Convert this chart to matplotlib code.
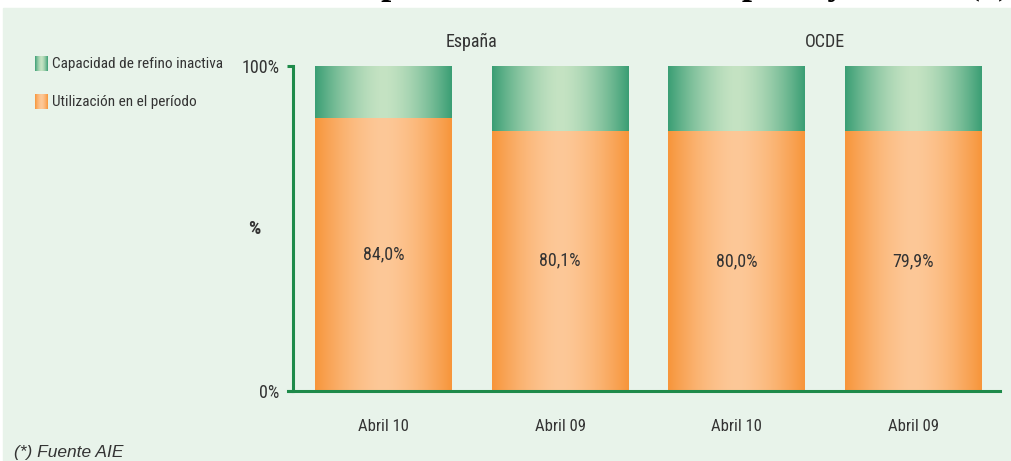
"""Refinery capacity utilisation, Spain vs OECD: stacked 100% bars with gradient fill."""

import matplotlib
matplotlib.use("Agg")
import matplotlib.pyplot as plt
import numpy as np
from matplotlib import font_manager
from matplotlib.colors import to_rgb
from matplotlib.patches import Rectangle

# data
categories = ["Abril 10", "Abril 09", "Abril 10", "Abril 09"]
groups = ["España", "OCDE"]
utilizacion = [84.0, 80.1, 80.0, 79.9]
inactiva = [100 - v for v in utilizacion]
series_labels = ["Capacidad de refino inactiva", "Utilización en el período"]
title = "Utilización de la capacidad de refino en España y OCDE (*)"
source = "(*) Fuente AIE"

# narrowest family we can find
installed = {f.name for f in font_manager.fontManager.ttflist}
NARROW = next((n for n in ["Liberation Sans Narrow", "DejaVu Sans Condensed",
                            "Roboto Condensed", "Open Sans Condensed"] if n in installed),
              "DejaVu Sans")
SHRINK = 1.0 if NARROW != "DejaVu Sans" else 0.82

TEXT = "#333333"
AXIS_GREEN = "#1E8A4A"
PANEL = "#E8F3EA"
ORANGE = ("#F7953A", "#FDC898")   # edge, centre
GREEN = ("#3A9E74", "#C5E3C3")


def gradient(edge, centre, n=256):
    x = np.linspace(0, 1, n)
    t = np.abs(x - 0.5) * 2
    f = np.clip(t, 0, 1) ** 1.6
    e, c = np.array(to_rgb(edge)), np.array(to_rgb(centre))
    row = c[None, :] + (e - c)[None, :] * f[:, None]
    return row[None, :, :]


fig = plt.figure(figsize=(10.12, 4.61), dpi=100)
fig.patch.set_facecolor("white")

W, H = 1012, 461
# light green panel under everything
fig.patches.append(Rectangle((3 / W, 0), 1 - 3 / W, 1 - 8 / H,
                             transform=fig.transFigure, color=PANEL, zorder=-1))

ax = fig.add_axes([293 / W, 70 / H, 707 / W, 325 / H])
ax.set_facecolor("none")

x = np.arange(len(categories))
width = 0.775
ax.set_xlim(-0.512, 3.49)
ax.set_ylim(0, 100)

bars_u = ax.bar(x, utilizacion, width, color="none", edgecolor="none")
bars_i = ax.bar(x, inactiva, width, bottom=utilizacion, color="none", edgecolor="none")

for bars, (edge, centre) in ((bars_u, ORANGE), (bars_i, GREEN)):
    img = gradient(edge, centre)
    for b in bars:
        x0, y0 = b.get_x(), b.get_y()
        im = ax.imshow(img, extent=(x0, x0 + b.get_width(), y0, y0 + b.get_height()),
                       aspect="auto", interpolation="bilinear", zorder=2)
        im.set_clip_path(b)

for xi, v in zip(x, utilizacion):
    ax.text(xi, v / 2, f"{v:.1f}%".replace(".", ","), ha="center", va="center",
            family=NARROW, fontsize=13 * SHRINK, color=TEXT, zorder=3)

for spine in ("top", "right"):
    ax.spines[spine].set_visible(False)
for spine in ("left", "bottom"):
    ax.spines[spine].set_color(AXIS_GREEN)
    ax.spines[spine].set_linewidth(2.2)
ax.spines["bottom"].set_bounds(-0.54, 3.49)

ax.set_yticks([0, 100])
ax.set_yticklabels(["0%", "100%"], family=NARROW, fontsize=13 * SHRINK, color=TEXT)
ax.tick_params(axis="y", length=4, width=2.2, color=AXIS_GREEN, pad=6)
ax.set_xticks(x)
ax.set_xticklabels(categories, family=NARROW, fontsize=12 * SHRINK, color=TEXT)
ax.tick_params(axis="x", length=0, pad=20)
ax.set_ylabel("%", rotation=0, family=NARROW, fontsize=14 * SHRINK, color=TEXT,
              fontweight="bold", va="center")
ax.yaxis.set_label_coords(-0.055, 0.5)

for gi, g in enumerate(groups):
    ax.text(gi * 2 + 0.5, 1.045, g, transform=ax.get_xaxis_transform(),
            ha="center", va="bottom", family=NARROW, fontsize=13 * SHRINK, color=TEXT)

# legend: gradient swatches with labels
for i, (lab, (edge, centre)) in enumerate(zip(series_labels, (GREEN, ORANGE))):
    yc = 64 + i * 38
    sw = fig.add_axes([35 / W, 1 - (yc + 7) / H, 13 / W, 15 / H])
    sw.imshow(gradient(edge, centre), aspect="auto", interpolation="bilinear")
    sw.axis("off")
    fig.text(52 / W, 1 - yc / H, lab, ha="left", va="center",
             family=NARROW, fontsize=11 * SHRINK, color=TEXT)

fig.text(14 / W, 1 - 452 / H, source, ha="left", va="center",
         family="Liberation Sans", style="italic", fontsize=12.5, color=TEXT)

# heading sits above the canvas, only its descenders show
fig.text(1010 / W, 1 + 6 / H, title, ha="right", va="baseline",
         family="Liberation Serif", fontweight="bold", fontsize=26, color="black")

fig.savefig("out.png", dpi=100)
